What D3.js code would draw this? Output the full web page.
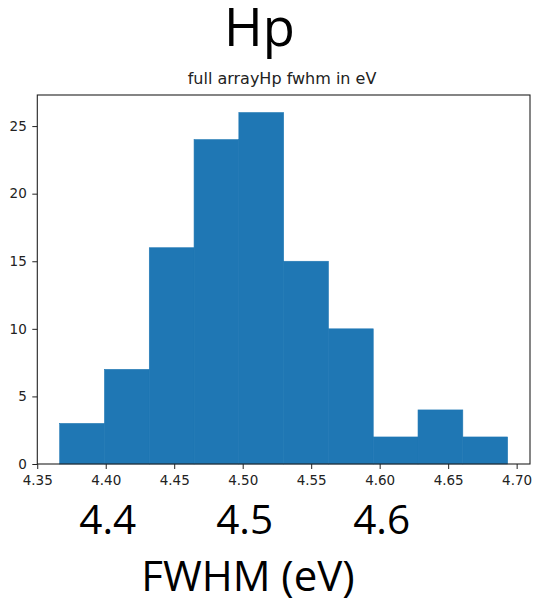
<!DOCTYPE html>
<html>
<head>
<meta charset="utf-8">
<script src="https://cdn.jsdelivr.net/npm/d3@7"></script>
<style>
  body { margin: 0; background: #fff; }
  svg { display: block; }
</style>
</head>
<body>
<div id="chart"></div>
<script>
// histogram bins (edges in eV) and counts
var binEdges = [4.3664, 4.3991, 4.4318, 4.4645, 4.4972, 4.5299, 4.5626, 4.5953, 4.6280, 4.6607, 4.6934];
var counts = [3, 7, 16, 24, 26, 15, 10, 2, 4, 2];
var xTicks = [4.35, 4.40, 4.45, 4.50, 4.55, 4.60, 4.65, 4.70];
var yTicks = [0, 5, 10, 15, 20, 25];
var bigTicks = [4.4, 4.5, 4.6];

var W = 533, H = 600;
// plot box (window.top is reserved, so use p* names)
var pLeft = 37.3, pRight = 530, pTop = 95, pBottom = 464;

var svg = d3.select("#chart").append("svg")
  .attr("width", W)
  .attr("height", H);

var bins = counts.map(function (c, i) {
  return { x0: binEdges[i], x1: binEdges[i + 1], n: c };
});

// matplotlib style 5% margins on x, 5% headroom on y
var pad = (binEdges[binEdges.length - 1] - binEdges[0]) * 0.05;
var x = d3.scaleLinear()
  .domain([binEdges[0] - pad, binEdges[binEdges.length - 1] + pad])
  .range([pLeft, pRight]);
var y = d3.scaleLinear()
  .domain([0, d3.max(counts) * 1.05])
  .range([pBottom, pTop]);

// bars (thin stroke of the same colour hides the seams between bins)
svg.append("g")
  .selectAll("rect")
  .data(bins)
  .enter()
  .append("rect")
    .attr("x", function (d) { return x(d.x0); })
    .attr("y", function (d) { return y(d.n); })
    .attr("width", function (d) { return x(d.x1) - x(d.x0); })
    .attr("height", function (d) { return y(0) - y(d.n); })
    .style("fill", "#1f77b4")
    .style("stroke", "#1f77b4")
    .style("stroke-width", 0.6);

// axes
var xAxis = svg.append("g")
  .attr("transform", "translate(0," + pBottom + ")")
  .call(d3.axisBottom(x).tickValues(xTicks).tickFormat(d3.format(".2f")).tickSize(5).tickPadding(6.5).tickSizeOuter(0));
var yAxis = svg.append("g")
  .attr("transform", "translate(" + pLeft + ",0)")
  .call(d3.axisLeft(y).tickValues(yTicks).tickSize(5).tickPadding(5.5).tickSizeOuter(0));

[xAxis, yAxis].forEach(function (a) {
  a.select(".domain").remove();
  a.selectAll("line").attr("stroke", "#222");
  a.selectAll("text")
    .attr("fill", "#222")
    .style("font-family", "DejaVu Sans")
    .style("font-size", "13.5px");
});

// frame
svg.append("rect")
  .attr("x", pLeft)
  .attr("y", pTop)
  .attr("width", pRight - pLeft)
  .attr("height", pBottom - pTop)
  .attr("fill", "none")
  .attr("stroke", "#222")
  .attr("stroke-width", 1.1);

// subtitle
svg.append("text")
  .attr("x", 282)
  .attr("y", 84)
  .attr("text-anchor", "middle")
  .style("font-family", "DejaVu Sans")
  .style("font-size", "16px")
  .attr("fill", "#222")
  .text("full arrayHp fwhm in eV");

// big title
svg.append("text")
  .attr("x", 259.5)
  .attr("y", 46)
  .attr("text-anchor", "middle")
  .style("font-family", "Open Sans")
  .style("font-size", "52.5px")
  .attr("fill", "#000")
  .text("Hp");

// large tick labels under the plot
svg.append("g")
  .selectAll("text")
  .data(bigTicks)
  .enter()
  .append("text")
    .attr("x", function (d) { return x(d) + 2; })
    .attr("y", 534)
    .attr("text-anchor", "middle")
    .style("font-family", "Open Sans")
    .style("font-size", "40.5px")
    .attr("fill", "#000")
    .text(function (d) { return d3.format(".1f")(d); });

// axis title
svg.append("text")
  .attr("x", 248)
  .attr("y", 591)
  .attr("text-anchor", "middle")
  .style("font-family", "Open Sans")
  .style("font-size", "42px")
  .attr("fill", "#000")
  .text("FWHM (eV)");
</script>
</body>
</html>
